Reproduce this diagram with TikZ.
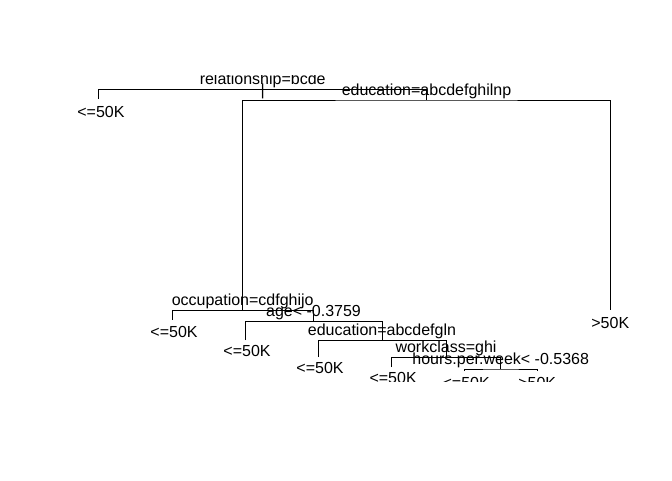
\documentclass[tikz,border=0pt]{standalone}
\usepackage{fontspec}
\setmainfont{Liberation Sans}
\begin{document}
\begin{tikzpicture}[x=1pt,y=-1pt,
  branch/.style={draw=black,line width=0.9pt},
  lbl/.style={inner sep=0pt,anchor=base,font=\fontsize{16}{19}\selectfont},
  leaflbl/.style={lbl,xshift=2pt},
]
\useasboundingbox (0,0) rectangle (672,480);
\begin{scope}
\clip (0,75) rectangle (672,381.5);
% split nodes (at the height of their branch bar)
\coordinate (R)  at (262.7,89.5);
\coordinate (E1) at (426.5,100);
\coordinate (O)  at (242.7,310.7);
\coordinate (A)  at (313.5,321.7);
\coordinate (E2) at (382.0,340.7);
\coordinate (W)  at (446.0,357.7);
\coordinate (H)  at (500.7,369);
% leaves
\coordinate (L1) at (98.9,99);
\coordinate (L2) at (172.0,319.5);
\coordinate (L3) at (245.0,340);
\coordinate (L4) at (318.0,357);
\coordinate (L5) at (391.1,367);
\coordinate (L6) at (464.2,371);
\coordinate (L7) at (537.2,371);
\coordinate (L8) at (610.3,310);
% branches: left child up to the parent's bar, across, down to the right child
\draw[branch] (L1) |- (R) -| (E1);
\draw[branch] (O)  |- (E1) -| (L8);
\draw[branch] (L2) |- (O) -| (A);
\draw[branch] (L3) |- (A) -| (E2);
\draw[branch] (L4) |- (E2) -| (W);
\draw[branch] (L5) |- (W) -| (H);
\draw[branch] (L6) |- (H) -| (L7);
% split labels (yshift is in page direction: positive is up)
\node[lbl] (tR)  at ([yshift=5pt]R)  {relationship=bcde};
\node[lbl] (tRb) at ([yshift=-5.5pt]R) {|};
\node[lbl] (tE1) at ([yshift=5pt]E1) {education=abcdefghilnp};
\node[lbl] (tO)  at ([yshift=5pt]O)  {occupation=cdfghijo};
\node[lbl] (tA)  at ([yshift=5pt]A)  {age< -0.3759};
\node[lbl] (tE2) at ([yshift=5pt]E2) {education=abcdefgln};
\node[lbl] (tW)  at ([yshift=5pt]W)  {workclass=ghi};
\node[lbl] (tH)  at ([yshift=5pt]H)  {hours.per.week< -0.5368};
% leaf labels
\node[leaflbl] (tL1) at ([yshift=-18pt]L1) {<=50K};
\node[leaflbl] (tL2) at ([yshift=-18pt]L2) {<=50K};
\node[leaflbl] (tL3) at ([yshift=-16.5pt]L3) {<=50K};
\node[leaflbl] (tL4) at ([yshift=-16.5pt]L4) {<=50K};
\node[leaflbl] (tL5) at ([yshift=-16.5pt]L5) {<=50K};
\node[leaflbl] (tL6) at ([yshift=-17pt]L6) {<=50K};
\node[lbl] (tL7) at ([yshift=-17pt]L7) {>50K};
\node[lbl] (tL8) at ([yshift=-18pt]L8) {>50K};
\end{scope}
\end{tikzpicture}
\end{document}
